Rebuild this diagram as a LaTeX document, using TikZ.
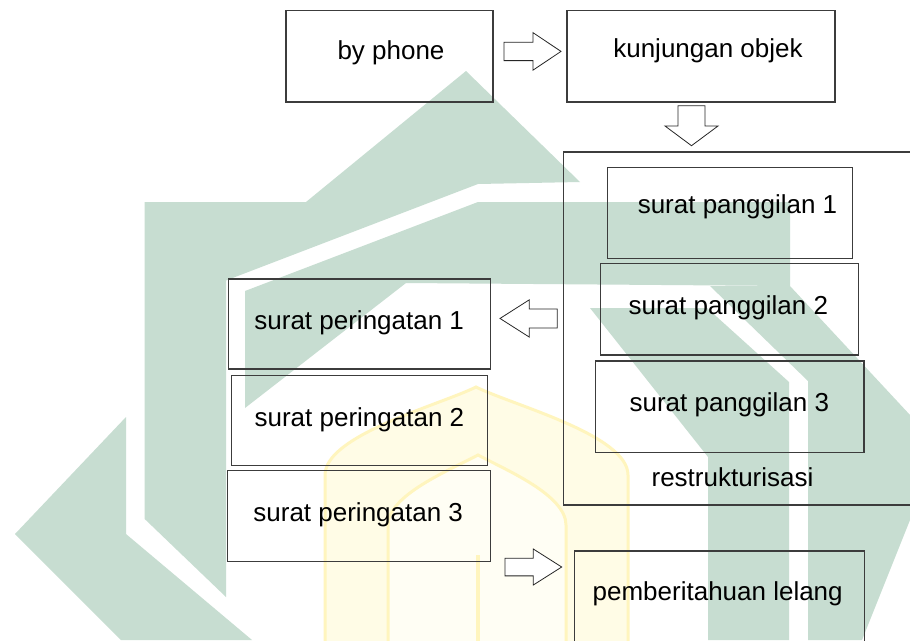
\documentclass[tikz,border=0pt]{standalone}
\usepackage{fontspec}
\setmainfont{Liberation Sans}
\usetikzlibrary{calc}

\definecolor{wmgreen}{RGB}{199,221,209}
\definecolor{wmyellow}{RGB}{255,252,230}
\definecolor{wmyellowedge}{RGB}{255,245,190}
\definecolor{frameline}{RGB}{60,60,60}

\tikzset{
  box/.style={draw=frameline, line width=1.1pt, inner sep=0pt, outer sep=0pt},
  caption/.style={anchor=base, inner sep=0pt, font=\fontsize{26pt}{31pt}\selectfont},
  arrowline/.style={draw=black!85, line width=0.8pt, fill=white, line join=miter},
  pics/blockarrow/.style n args={4}{code={
    \path[arrowline] (-#1/2,-#3) -- (#1/2-#2,-#3) -- (#1/2-#2,-#4) -- (#1/2,0)
      -- (#1/2-#2,#4) -- (#1/2-#2,#3) -- (-#1/2,#3) -- cycle;
  }},
}

\begin{document}
\begin{tikzpicture}[x=1pt, y=-1pt]
  \useasboundingbox (0,0) rectangle (910,640);
  \clip (0,0) rectangle (910,640);
  \fill[white] (0,0) rectangle (910,640);

  % background emblem: green bands
  \fill[wmgreen] (144.7,202) -- (306,202) -- (466,71) -- (580,182) -- (478,184)
    -- (226,280.5) -- (226,597) -- (144.7,519) -- cycle;
  \fill[wmgreen] (245,291) -- (478,202) -- (790,202) -- (790,286) -- (406,283)
    -- (245,408) -- cycle;
  \fill[wmgreen] (15,534) -- (126,417) -- (126,534) -- (252,640) -- (121,640) -- cycle;
  \fill[wmgreen] (590,308) -- (707,308) -- (789,382) -- (789,640) -- (708,640)
    -- (708,457) -- cycle;
  \fill[wmgreen] (710,286) -- (790,286) -- (910,415) -- (910,520) -- (862,640)
    -- (808,640) -- (808,381) -- cycle;

  % background emblem: yellow gate
  \path[fill=wmyellow, draw=wmyellowedge, line width=3pt]
    (325,645) -- (325,475) .. controls (325,435) and (440,405) .. (476,387)
    .. controls (512,405) and (628,435) .. (628,475) -- (628,645) -- cycle;
  \path[fill=white!55!wmyellow, draw=wmyellowedge, line width=3pt]
    (388,645) -- (388,525) .. controls (388,495) and (450,470) .. (478,455)
    .. controls (506,470) and (566,495) .. (566,525) -- (566,645) -- cycle;
  \draw[wmyellowedge, line width=4pt] (478,555) -- (478,645);

  % boxes
  \node[box, minimum width=207pt, minimum height=91.4pt] (byphone) at (389.5,56.3) {};
  \node[box, minimum width=268pt, minimum height=91.4pt] (kunjungan) at (701,56.3) {};
  \node[box, minimum width=396.5pt, minimum height=353pt] (restruct) at (761.75,328.5) {};
  \node[box, minimum width=244.6pt, minimum height=91pt] (pg1) at (730,212.8) {};
  \node[box, minimum width=258.3pt, minimum height=91.3pt] (pg2) at (729.2,309.35) {};
  \node[box, minimum width=268.3pt, minimum height=91.3pt] (pg3) at (729.85,406.65) {};
  \node[box, minimum width=261.7pt, minimum height=90pt] (pr1) at (359.75,323.95) {};
  \node[box, minimum width=255.7pt, minimum height=90.3pt] (pr2) at (359.35,420.35) {};
  \node[box, minimum width=262.9pt, minimum height=91pt] (pr3) at (359.15,515.8) {};
  \node[box, minimum width=289.7pt, minimum height=149pt] (lelang) at (719.35,625.5) {};

  % texts
  \node[caption] (tbyphone) at (391,59.5) {by phone};
  \node[caption] (tkunjungan) at (708,57) {kunjungan objek};
  \node[caption] (tpg1) at (737.5,213.3) {surat panggilan 1};
  \node[caption] (tpg2) at (728.3,314) {surat panggilan 2};
  \node[caption] (tpg3) at (729.3,411.7) {surat panggilan 3};
  \node[caption] (trestruct) at (732.5,486) {restrukturisasi};
  \node[caption] (tpr1) at (359.2,329.3) {surat peringatan 1};
  \node[caption] (tpr2) at (359.4,426.3) {surat peringatan 2};
  \node[caption] (tpr3) at (358.2,521.3) {surat peringatan 3};
  \node[caption] (tlelang) at (717.7,600.7) {pemberitahuan lelang};

  % block arrows between the boxes
  \pic at ($(byphone.east)!0.5!(kunjungan.west)+(2.5,-4.9)$)
    {blockarrow={57}{28}{9.2}{18.75}};
  \pic[rotate=-90] at ($(kunjungan.south)!0.5!(kunjungan.south|-restruct.north)+(-9.5,-1.3)$)
    {blockarrow={40}{19.7}{13.5}{26.5}};
  \pic[rotate=180] at ($(pr1.east)!0.5!(restruct.west|-pr1.east)+(1.6,-5.5)$)
    {blockarrow={57.3}{29.3}{9.5}{18.65}};
  \pic at ($(pr3.south east)!0.5!(lelang.north west)+(0.8,10.85)$)
    {blockarrow={56.7}{28.4}{8.85}{18}};
\end{tikzpicture}
\end{document}
